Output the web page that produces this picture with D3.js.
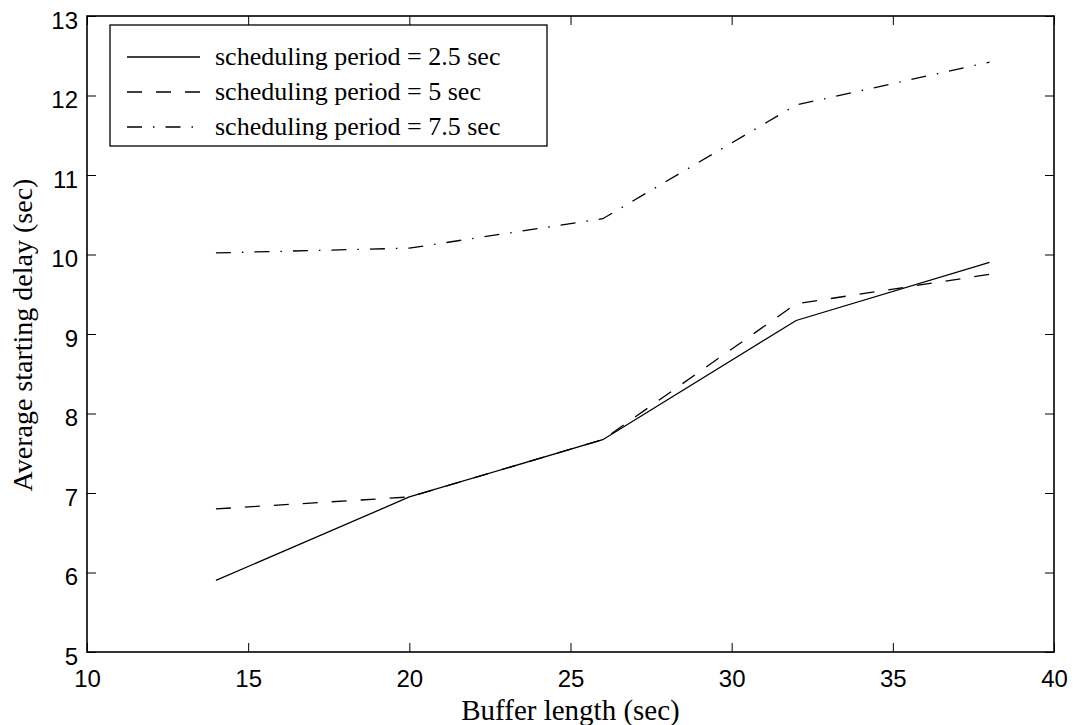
<!DOCTYPE html>
<html>
<head>
<meta charset="utf-8">
<script src="https://cdn.jsdelivr.net/npm/d3@7"></script>
<style>
  html, body { margin: 0; padding: 0; background: #fff; }
  svg { display: block; }
</style>
</head>
<body>
<svg id="chart" width="1080" height="725"></svg>
<script>
// Buffer lengths (sec) on the x axis
const bufferLengths = [14, 20, 26, 32, 38];

// Average starting delay (sec) for each scheduling period
const delayPeriod2_5 = [5.90, 6.95, 7.67, 9.17, 9.90];
const delayPeriod5   = [6.80, 6.95, 7.67, 9.38, 9.75];
const delayPeriod7_5 = [10.02, 10.08, 10.45, 11.88, 12.42];

const seriesLabels = [
  "scheduling period = 2.5 sec",
  "scheduling period = 5 sec",
  "scheduling period = 7.5 sec"
];

const xTicks = [10, 15, 20, 25, 30, 35, 40];
const yTicks = [5, 6, 7, 8, 9, 10, 11, 12, 13];

const margin = { left: 87, right: 26, top: 16, bottom: 73 };
const W = 1080, H = 725;
const innerW = W - margin.left - margin.right;
const innerH = H - margin.top - margin.bottom;

const svg = d3.select("#chart");
const g = svg.append("g").attr("transform", `translate(${margin.left},${margin.top})`);

const x = d3.scaleLinear().domain([10, 40]).range([0, innerW]);
const y = d3.scaleLinear().domain([5, 13]).range([innerH, 0]);

const tickFont = "'Liberation Sans', Arial, sans-serif";
const serifFont = "'Liberation Serif', 'Times New Roman', serif";
const tickLen = 9;

// Inward ticks on all four sides
const axes = [
  { axis: d3.axisBottom(x).tickValues(xTicks), t: `translate(0,${innerH})`, labels: true, kind: "x" },
  { axis: d3.axisTop(x).tickValues(xTicks), t: "translate(0,0)", labels: false },
  { axis: d3.axisLeft(y).tickValues(yTicks), t: "translate(0,0)", labels: true, kind: "y" },
  { axis: d3.axisRight(y).tickValues(yTicks), t: `translate(${innerW},0)`, labels: false }
];

axes.forEach(a => {
  const ag = g.append("g").attr("transform", a.t)
    .call(a.axis.tickSizeInner(-tickLen).tickSizeOuter(0).tickPadding(0));
  ag.select(".domain").remove();
  ag.selectAll(".tick line").attr("stroke", "#000").attr("stroke-width", 1);
  if (!a.labels) {
    ag.selectAll(".tick text").remove();
  } else if (a.kind === "x") {
    ag.selectAll(".tick text")
      .attr("font-family", tickFont).attr("font-size", 24).attr("fill", "#000")
      .attr("y", 35).attr("dy", null);
  } else {
    ag.selectAll(".tick text")
      .attr("font-family", tickFont).attr("font-size", 24).attr("fill", "#000")
      .attr("x", -9).attr("dy", null).attr("y", 12);
  }
});

// Plot frame
g.append("rect")
  .attr("x", 0).attr("y", 0).attr("width", innerW).attr("height", innerH)
  .attr("fill", "none").attr("stroke", "#000").attr("stroke-width", 1.6);

const dashes = [null, "15,14", "15,11,1.5,11"];
const seriesValues = [delayPeriod2_5, delayPeriod5, delayPeriod7_5];

const line = d3.line().x(d => x(d[0])).y(d => y(d[1]));

seriesValues.forEach((vals, i) => {
  g.append("path")
    .datum(bufferLengths.map((b, k) => [b, vals[k]]))
    .attr("d", line)
    .attr("fill", "none")
    .attr("stroke", "#000")
    .attr("stroke-width", 1.3)
    .attr("stroke-dasharray", dashes[i]);
});

// Legend
const leg = svg.append("g").attr("transform", "translate(110,25)");
leg.append("rect")
  .attr("width", 437).attr("height", 121)
  .attr("fill", "#fff").attr("stroke", "#000").attr("stroke-width", 1.3);

seriesLabels.forEach((label, i) => {
  const ry = 32 + i * 35;
  leg.append("line")
    .attr("x1", 17).attr("x2", 90).attr("y1", ry).attr("y2", ry)
    .attr("stroke", "#000").attr("stroke-width", 1.3)
    .attr("stroke-dasharray", dashes[i]);
  leg.append("text")
    .attr("x", 105).attr("y", ry + 8)
    .attr("font-family", serifFont).attr("font-size", 26)
    .attr("fill", "#000")
    .text(label);
});

// Axis titles
svg.append("text")
  .attr("x", margin.left + innerW / 2).attr("y", 720)
  .attr("text-anchor", "middle")
  .attr("font-family", serifFont).attr("font-size", 29)
  .text("Buffer length (sec)");

svg.append("text")
  .attr("transform", "translate(32,335) rotate(-90)")
  .attr("text-anchor", "middle")
  .attr("font-family", serifFont).attr("font-size", 28)
  .text("Average starting delay (sec)");
</script>
</body>
</html>
